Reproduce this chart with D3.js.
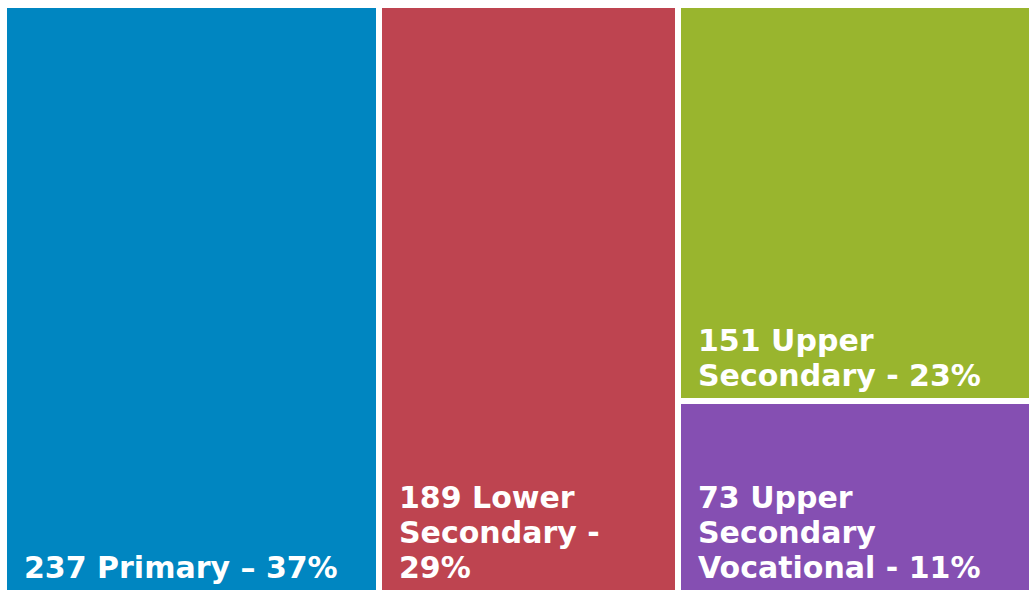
<!DOCTYPE html>
<html>
<head>
<meta charset="utf-8">
<script src="https://cdn.jsdelivr.net/npm/d3@7"></script>
<style>
  body { margin: 0; background: #fff; }
  svg { display: block; }
</style>
</head>
<body>
<svg></svg>
<script>
const categories = ["Primary", "Lower Secondary", "Upper Secondary", "Upper Secondary Vocational"];
const values = [237, 189, 151, 73];
const percents = [37, 29, 23, 11];
const groups = ["Primary", "Lower Secondary", "Upper", "Upper"];
const labelLines = [
  ["237 Primary \u2013 37%"],
  ["189 Lower", "Secondary -", "29%"],
  ["151 Upper", "Secondary - 23%"],
  ["73 Upper", "Secondary", "Vocational - 11%"]
];
const colors = ["#0086c1", "#be4450", "#99b52e", "#854fb2"];

const W = 1029, H = 590;
const svg = d3.select("svg").attr("width", W).attr("height", H);

// build nested data: the two upper secondary cells share one column
const children = [];
categories.forEach((c, i) => {
  const g = groups[i];
  let parent = children.find(d => d.name === g);
  if (!parent) {
    parent = { name: g, children: [] };
    children.push(parent);
  }
  parent.children.push({ name: c, value: values[i], idx: i });
});

const root = d3.hierarchy({ name: "root", children: children })
  .sum(d => d.value || 0);

const tile = (node, x0, y0, x1, y1) => {
  if (node.depth === 0) d3.treemapDice(node, x0, y0, x1, y1);
  else d3.treemapSlice(node, x0, y0, x1, y1);
};

d3.treemap()
  .tile(tile)
  .size([1022, 582])
  .paddingInner(6)
  .round(true)(root);

const g = svg.append("g").attr("transform", "translate(7,8)");

const cells = g.selectAll("g.cell").data(root.leaves()).enter().append("g")
  .attr("class", "cell")
  .attr("transform", d => `translate(${d.x0},${d.y0})`);

cells.append("rect")
  .attr("width", d => d.x1 - d.x0)
  .attr("height", d => d.y1 - d.y0)
  .attr("fill", d => colors[d.data.idx]);

const lineH = 35, fontSize = 30;
cells.append("text")
  .attr("font-family", "'DejaVu Sans', Verdana, sans-serif")
  .attr("font-weight", "bold")
  .attr("font-size", fontSize)
  .attr("fill", "#fff")
  .each(function(d) {
    const lines = labelLines[d.data.idx];
    const h = d.y1 - d.y0;
    d3.select(this).selectAll("tspan").data(lines).enter().append("tspan")
      .attr("x", 17)
      .attr("y", (l, i) => h - 12 - (lines.length - 1 - i) * lineH)
      .text(l => l);
  });
</script>
</body>
</html>
